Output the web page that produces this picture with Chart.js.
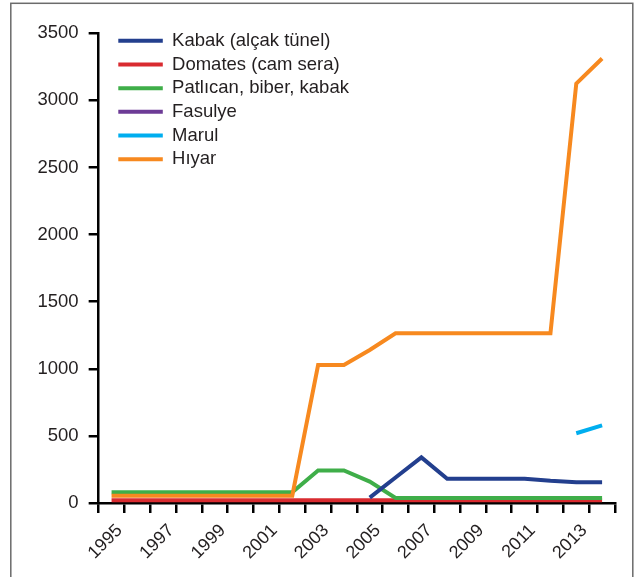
<!DOCTYPE html>
<html>
<head>
<meta charset="utf-8">
<script src="https://cdn.jsdelivr.net/npm/chart.js@4"></script>
<style>
  html, body { margin: 0; padding: 0; background: #fff; }
  #wrap { position: relative; width: 640px; height: 577px; }
</style>
</head>
<body>
<div id="wrap"><canvas id="c" width="640" height="577"></canvas></div>
<script>
// ---- data ----
const years = ['1995','1996','1997','1998','1999','2000','2001','2002','2003','2004',
               '2005','2006','2007','2008','2009','2010','2011','2012','2013','2014'];
const kabakAlcakTunel = [null,null,null,null,null,null,null,null,null,null,
                         40,190,340,180,180,180,180,165,155,155];
const domatesCamSera  = [20,20,20,20,20,20,20,20,20,20,20,20,20,20,20,20,20,20,20,20];
const patlicanBiber   = [80,80,80,80,80,80,80,80,242,242,160,38,38,38,38,38,38,38,38,38];
const fasulye         = [null,null,null,null,null,null,null,null,null,null,
                         null,null,null,null,null,null,null,null,null,null];
const marul           = [null,null,null,null,null,null,null,null,null,null,
                         null,null,null,null,null,null,null,null,520,578];
const hiyar           = [55,55,55,55,55,55,55,55,1028,1028,1140,1265,1265,1265,1265,1265,1265,1265,3125,3312];
const yTicks = [0,500,1000,1500,2000,2500,3000,3500];

const FONT = 'Liberation Sans, Arial, Helvetica, sans-serif';
const TXT = '#231f20';

function ds(label, data, color, order) {
  return { label, data, borderColor: color, backgroundColor: color, borderWidth: 4,
           pointRadius: 0, pointHoverRadius: 0, tension: 0, fill: false, order,
           borderCapStyle: 'butt', borderJoinStyle: 'miter' };
}

const framePlugin = {
  id: 'frame',
  beforeDraw(chart) {
    const ctx = chart.ctx;
    ctx.save();
    ctx.fillStyle = '#fff';
    ctx.fillRect(0, 0, chart.width, chart.height);
    ctx.strokeStyle = '#6b6b6b';
    ctx.lineWidth = 1.5;
    ctx.strokeRect(10.8, 3.3, 622, 600);
    ctx.restore();
  }
};
const legendPos = {
  id: 'legendPos',
  afterLayout(chart) {
    if (chart.legend) { chart.legend.left = 113.1; chart.legend.top = 26.3; }
  }
};

new Chart(document.getElementById('c'), {
  type: 'line',
  data: {
    labels: years,
    datasets: [
      ds('Kabak (alçak tünel)', kabakAlcakTunel, '#233f8e', 3),
      ds('Domates (cam sera)', domatesCamSera, '#d92b30', 6),
      ds('Patlıcan, biber, kabak', patlicanBiber, '#3fae49', 4),
      ds('Fasulye', fasulye, '#6d3b96', 5),
      ds('Marul', marul, '#00aeef', 2),
      ds('Hıyar', hiyar, '#f7891f', 1)
    ]
  },
  options: {
    responsive: false,
    animation: false,
    devicePixelRatio: 1,
    layout: { padding: { left: 27.5, top: 33.3, right: 25, bottom: 6.4 } },
    plugins: {
      tooltip: { enabled: false },
      legend: {
        position: 'chartArea',
        align: 'start',
        labels: {
          boxWidth: 44.5, boxHeight: 4, padding: 5.2, color: TXT,
          font: { family: FONT, size: 18.5 },
          generateLabels(chart) {
            return chart.data.datasets.map((d, i) => ({
              text: d.label, fillStyle: d.borderColor, strokeStyle: d.borderColor,
              lineWidth: 0, hidden: false, datasetIndex: i, fontColor: TXT
            }));
          }
        }
      }
    },
    scales: {
      x: {
        type: 'category',
        offset: true,
        grid: { offset: true, drawOnChartArea: false, drawTicks: true, tickLength: 10,
                color: '#000', lineWidth: 2.5 },
        border: { display: true, color: '#000', width: 2.5 },
        ticks: {
          autoSkip: false, minRotation: 45, maxRotation: 45, padding: 7, labelOffset: 8,
          color: TXT, font: { family: FONT, size: 18 },
          callback(v, i) { return i % 2 === 0 ? years[i] : ''; }
        }
      },
      y: {
        min: 0, max: 3500,
        afterBuildTicks(scale) { scale.ticks = yTicks.map(v => ({ value: v })); },
        grid: { drawOnChartArea: false, drawTicks: true, tickLength: 10,
                color: '#000', lineWidth: 2.5 },
        border: { display: true, color: '#000', width: 2.5 },
        ticks: { padding: 10, color: TXT, font: { family: FONT, size: 18.5 },
                 callback(v) { return String(v); } }
      }
    }
  },
  plugins: [framePlugin, legendPos]
});
</script>
</body>
</html>
